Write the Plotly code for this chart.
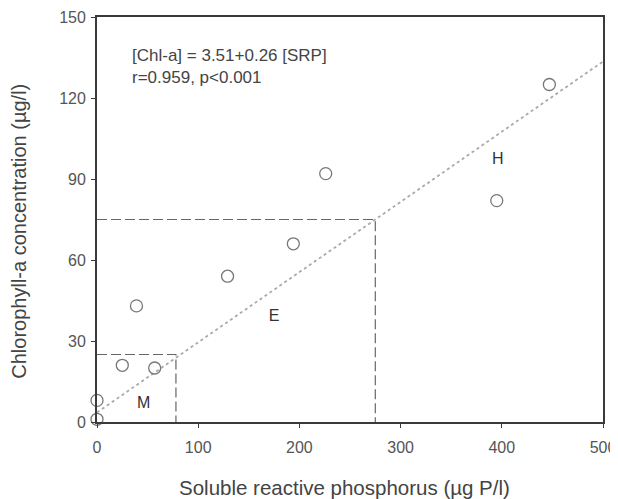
import plotly.graph_objects as go

# Data
srp = [447, 395, 226, 194, 129, 39, 25, 57, 0, 0]
chla = [125, 82, 92, 66, 54, 43, 21, 20, 8, 1]

intercept = 3.51
slope = 0.26
fit_x = [0, 500]
fit_y = [intercept + slope * v for v in fit_x]

# Trophic boundary boxes (x limit, y limit)
box_m = (78, 25)
box_e = (275, 75)

zone_labels = ["M", "E", "H"]
zone_x = [46, 175, 396]
zone_y = [6.5, 39, 97]

x_ticks = [0, 100, 200, 300, 400, 500]
y_ticks = [0, 30, 60, 90, 120, 150]

eq_text = "[Chl-a] = 3.51+0.26 [SRP]<br>r=0.959, p<0.001"
x_title = "Soluble reactive phosphorus (µg P/l)"
y_title = "Chlorophyll-a concentration (µg/l)"

frame = "#3a3a3a"
font = "Liberation Sans, Arial, sans-serif"

fig = go.Figure()

fig.add_trace(go.Scatter(x=fit_x, y=fit_y, mode="lines",
                         line=dict(color="#aaaaaa", width=1.8, dash="dot"),
                         hoverinfo="skip", showlegend=False))

for bx, by in (box_m, box_e):
    fig.add_trace(go.Scatter(x=[0, bx, bx], y=[by, by, 0], mode="lines",
                             line=dict(color="#666666", width=1.2, dash="10px,4px"),
                             hoverinfo="skip", showlegend=False))

fig.add_trace(go.Scatter(x=srp, y=chla, mode="markers",
                         marker=dict(symbol="circle-open", size=12,
                                     color="#777777", line=dict(width=1.3)),
                         cliponaxis=False, showlegend=False))

fig.add_trace(go.Scatter(x=zone_x, y=zone_y, mode="text", text=zone_labels,
                         textfont=dict(family=font, size=16, color="#333333"),
                         showlegend=False))

fig.add_annotation(x=0.065, y=0.934, xref="paper", yref="paper",
                   text=eq_text, showarrow=False, align="left",
                   xanchor="left", yanchor="top",
                   font=dict(family=font, size=17, color="#444444"))

fig.add_annotation(x=0.49, y=-0.162, xref="paper", yref="paper",
                   text=x_title, showarrow=False, xanchor="center", yanchor="middle",
                   font=dict(family=font, size=20.5, color="#444444"))
fig.add_annotation(x=-0.154, y=0.47, xref="paper", yref="paper",
                   text=y_title, showarrow=False, textangle=-90,
                   xanchor="center", yanchor="middle",
                   font=dict(family=font, size=20, color="#444444"))

axis_common = dict(showline=True, linecolor=frame, linewidth=1.8, mirror=True,
                   ticks="outside", ticklen=4, tickcolor=frame, showgrid=False,
                   zeroline=False, automargin=False, layer="above traces",
                   tickfont=dict(family=font, size=16, color="#555555"))

fig.update_xaxes(range=[0, 500], tickvals=x_ticks, ticklabelstandoff=6, **axis_common)
fig.update_yaxes(range=[0, 150], tickvals=y_ticks, ticklabelstandoff=2, **axis_common)

# The page body adds an 8 px offset, so the figure is 8 px smaller than the window
fig.update_layout(template="none", width=610, height=491,
                  plot_bgcolor="white", paper_bgcolor="white",
                  margin=dict(l=89, r=15, t=9, b=77, autoexpand=False))

fig.write_html("out.html")
